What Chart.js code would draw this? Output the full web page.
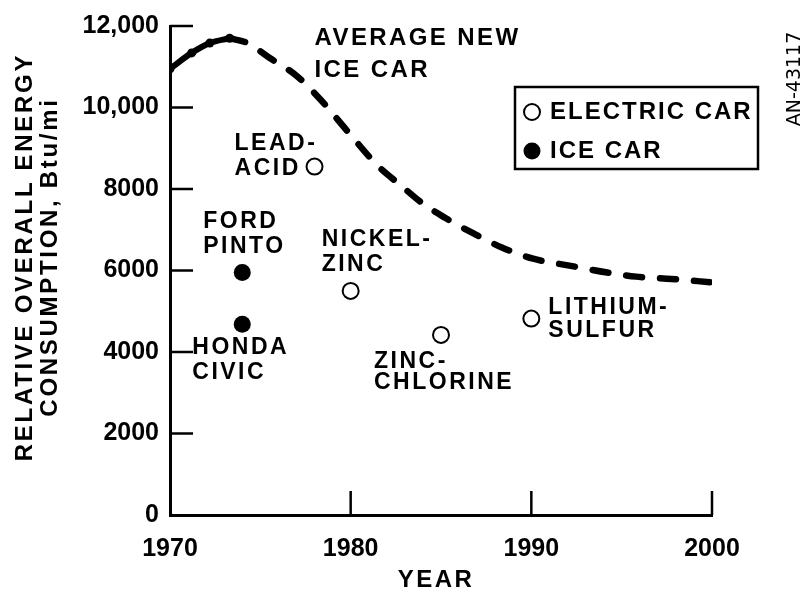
<!DOCTYPE html>
<html><head><meta charset="utf-8">
<script src="https://cdn.jsdelivr.net/npm/chart.js@4.4.1/dist/chart.umd.min.js"></script>
<style>html,body{margin:0;padding:0;background:#fff;}#wrap{width:807px;height:593px;}</style>
</head><body><div id="wrap"><canvas id="c" width="807" height="593"></canvas></div>
<script>
// ---- data ----
const xTickValues = [1970, 1980, 1990, 2000];
const xTickLabels = ['1970', '1980', '1990', '2000'];
const yTickValues = [0, 2000, 4000, 6000, 8000, 10000, 12000];
const yTickLabels = ['0', '2000', '4000', '6000', '8000', '10,000', '12,000'];

const histYears  = [1970, 1971.2, 1972.2, 1973.3];
const histValues = [10950, 11340, 11580, 11700];
const projYears  = [1973.3, 1974.3, 1975.5, 1977.0, 1978.3, 1979.8, 1981.5, 1982.8, 1984.0, 1985.2, 1986.8, 1988.4, 1990.1, 1992.1, 1994.2, 1995.8, 1997.5, 2000];
const projValues = [11700, 11580, 11220, 10780, 10210, 9430, 8570, 8080, 7640, 7300, 6910, 6560, 6290, 6120, 5950, 5850, 5800, 5710];

const evYears  = [1978, 1980, 1985, 1990];
const evValues = [8550, 5500, 4420, 4820];
const evLabels = [['LEAD-', 'ACID'], ['NICKEL-', 'ZINC'], ['ZINC-', 'CHLORINE'], ['LITHIUM-', 'SULFUR']];

const iceYears  = [1974, 1974];
const iceValues = [5950, 4680];
const iceLabels = [['FORD', 'PINTO'], ['HONDA', 'CIVIC']];

const curveLabel = ['AVERAGE NEW', 'ICE CAR'];
const legendLabels = ['ELECTRIC CAR', 'ICE CAR'];
const yTitle = ['RELATIVE OVERALL ENERGY', 'CONSUMPTION, Btu/mi'];
const xTitle = 'YEAR';
const figId = 'AN-43117';

// ---- styling / placement (pixel offsets from each point) ----
const FONT = '"Liberation Sans", Arial, Helvetica, sans-serif';
const evLabelOffsets  = [[[-80, -23], [-80, 2]], [[-29, -51], [-29, -26]], [[-67, 27], [-67, 48]], [[17, -11], [17, 12]]];
const iceLabelOffsets = [[[-39, -51], [-39, -26]], [[-50, 23], [-50, 48]]];

function pts(xs, ys) { return xs.map((x, i) => ({x: x, y: ys[i]})); }

function drawText(ctx, s, x, y, size, spacing, weight, align) {
  ctx.save();
  ctx.font = (weight || 'bold') + ' ' + size + 'px ' + FONT;
  ctx.fillStyle = '#000';
  ctx.textBaseline = 'middle';
  ctx.textAlign = align || 'left';
  try { ctx.letterSpacing = spacing + 'px'; } catch (e) {}
  ctx.fillText(s, x, y);
  ctx.restore();
}

const decor = {
  id: 'decor',
  afterDraw(chart) {
    const ctx = chart.ctx, xs = chart.scales.x, ys = chart.scales.y, ca = chart.chartArea;
    // inward tick marks
    ctx.save();
    ctx.strokeStyle = '#000'; ctx.lineWidth = 2.5;
    yTickValues.forEach(v => {
      if (v === 0) return;
      const py = ys.getPixelForValue(v);
      ctx.beginPath(); ctx.moveTo(ca.left, py); ctx.lineTo(ca.left + 23, py); ctx.stroke();
    });
    xTickValues.forEach(v => {
      if (v === 1970) return;
      const px = xs.getPixelForValue(v);
      ctx.beginPath(); ctx.moveTo(px, ca.bottom); ctx.lineTo(px, ca.bottom - 24); ctx.stroke();
    });
    ctx.restore();

    // point annotations
    evLabels.forEach((lines, i) => {
      const px = xs.getPixelForValue(evYears[i]), py = ys.getPixelForValue(evValues[i]);
      lines.forEach((s, j) => drawText(ctx, s, px + evLabelOffsets[i][j][0], py + evLabelOffsets[i][j][1], 23, 2.5));
    });
    iceLabels.forEach((lines, i) => {
      const px = xs.getPixelForValue(iceYears[i]), py = ys.getPixelForValue(iceValues[i]);
      lines.forEach((s, j) => drawText(ctx, s, px + iceLabelOffsets[i][j][0], py + iceLabelOffsets[i][j][1], 23, 2.5));
    });
    // curve label
    drawText(ctx, curveLabel[0], xs.getPixelForValue(1978.0), ys.getPixelForValue(11700), 24, 2.4);
    drawText(ctx, curveLabel[1], xs.getPixelForValue(1978.0), ys.getPixelForValue(10900), 24, 2.4);

    // legend box
    ctx.save();
    ctx.strokeStyle = '#000'; ctx.lineWidth = 2.5;
    ctx.strokeRect(515, 87, 243, 82);
    ctx.beginPath(); ctx.arc(532, 112, 8, 0, Math.PI * 2);
    ctx.fillStyle = '#fff'; ctx.fill(); ctx.lineWidth = 2; ctx.stroke();
    ctx.beginPath(); ctx.arc(532, 151, 8.5, 0, Math.PI * 2);
    ctx.fillStyle = '#000'; ctx.fill();
    ctx.restore();
    drawText(ctx, legendLabels[0], 550, 112, 24, 2);
    drawText(ctx, legendLabels[1], 550, 151, 24, 2);

    // axis titles
    [[25, yTitle[0]], [50, yTitle[1]]].forEach(([cx, s]) => {
      ctx.save();
      ctx.translate(cx, 257); ctx.rotate(-Math.PI / 2);
      drawText(ctx, s, 0, 0, 24, 2.7, 'bold', 'center');
      ctx.restore();
    });
    drawText(ctx, xTitle, 436, 580, 24, 2.5, 'bold', 'center');

    // figure id
    ctx.save();
    ctx.translate(795, 79); ctx.rotate(-Math.PI / 2);
    ctx.font = 'normal 19px "DejaVu Sans", sans-serif';
    ctx.fillStyle = '#000'; ctx.textAlign = 'center'; ctx.textBaseline = 'middle';
    ctx.fillText(figId, 0, 0);
    ctx.restore();
  }
};

new Chart(document.getElementById('c'), {
  type: 'scatter',
  data: {
    datasets: [
      { label: 'Average new ICE car (historical)', data: pts(histYears, histValues), showLine: true,
        borderColor: '#000', borderWidth: 6, backgroundColor: '#000', pointRadius: 4.5, pointBorderWidth: 0,
        cubicInterpolationMode: 'monotone', borderCapStyle: 'round' },
      { label: 'Average new ICE car (projected)', data: pts(projYears, projValues), showLine: true,
        borderColor: '#000', borderWidth: 6.5, borderDash: [16, 18], borderCapStyle: 'round',
        pointRadius: 0, cubicInterpolationMode: 'monotone' },
      { label: legendLabels[0], data: pts(evYears, evValues), pointRadius: 8, pointBorderWidth: 2,
        borderColor: '#000', backgroundColor: '#fff' },
      { label: legendLabels[1], data: pts(iceYears, iceValues), pointRadius: 8.5, pointBorderWidth: 0,
        borderColor: '#000', backgroundColor: '#000' }
    ]
  },
  options: {
    responsive: false, animation: false,
    layout: { padding: { top: 23, right: 95, bottom: 0, left: 0 } },
    plugins: { legend: { display: false }, tooltip: { enabled: false } },
    scales: {
      x: {
        type: 'linear', min: 1970, max: 2000,
        afterBuildTicks: s => { s.ticks = xTickValues.map(v => ({value: v})); },
        afterFit: s => { s.height = 78; },
        ticks: { callback: v => xTickLabels[xTickValues.indexOf(v)], color: '#000', padding: 19,
                 font: { family: FONT, size: 25, weight: 'bold' }, maxRotation: 0 },
        grid: { display: true, drawOnChartArea: false, drawTicks: false },
        border: { display: true, width: 3, color: '#000' }
      },
      y: {
        type: 'linear', min: 0, max: 12000,
        afterBuildTicks: s => { s.ticks = yTickValues.map(v => ({value: v})); },
        afterFit: s => { s.width = 170; },
        ticks: { callback: v => yTickLabels[yTickValues.indexOf(v)], color: '#000', padding: 11,
                 font: { family: FONT, size: 25, weight: 'bold' } },
        grid: { display: true, drawOnChartArea: false, drawTicks: false },
        border: { display: true, width: 3, color: '#000' }
      }
    }
  },
  plugins: [decor]
});
</script></body></html>
